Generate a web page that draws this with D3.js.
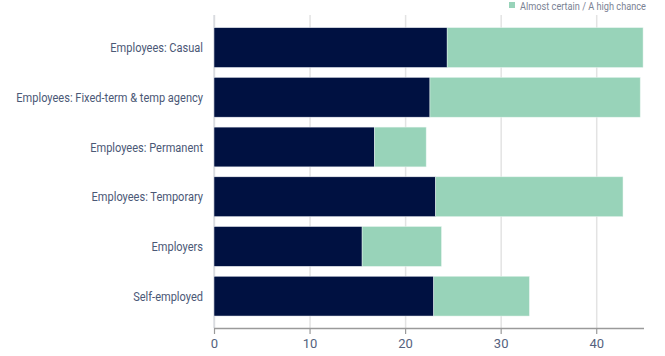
<!DOCTYPE html>
<html lang="en">
  <head>
    <title>Stacked Bar Chart</title>
    <script src="https://d3js.org/d3.v7.min.js"></script>
    <style>
      body {
        margin: 0;
        background: #fff;
      }

      text {
        font-family: "Roboto", sans-serif;
      }

      .grid line {
        stroke: #e3e3e3;
        stroke-width: 1.5;
      }

      .grid .domain {
        display: none;
      }

      .label {
        fill: #4b5876;
        font-size: 13px;
      }
    </style>
  </head>
  <body>
    <script>
      const categories = [
        'Employees: Casual',
        'Employees: Fixed-term & temp agency',
        'Employees: Permanent',
        'Employees: Temporary',
        'Employers',
        'Self-employed'
      ];
      const firstSeries = [24.4, 22.6, 16.8, 23.2, 15.5, 23.0];
      const highChance = [20.5, 22.0, 5.4, 19.6, 8.3, 10.0];
      const xTicks = [0, 10, 20, 30, 40];

      const w = 665;
      const h = 356;
      const left = 214;
      const right = 644;
      const bottom = 328;

      const xScale = d3.scaleLinear()
                       .domain([0, 45])
                       .range([left, right]);

      const yScale = d3.scaleBand()
                       .domain(categories)
                       .range([22.7, 321])
                       .paddingInner(0.2)
                       .paddingOuter(0.1);

      const svg = d3.select('body')
                    .append('svg')
                    .attr('width', w)
                    .attr('height', h);

      // vertical grid
      svg.append('g')
         .attr('class', 'grid')
         .attr('transform', `translate(0, ${bottom})`)
         .call(d3.axisBottom(xScale).tickValues(xTicks).tickSize(-(bottom - 15)).tickFormat(''));

      // left base line
      svg.append('line')
         .attr('x1', left).attr('x2', left)
         .attr('y1', 15).attr('y2', bottom)
         .attr('stroke', '#cfd3db')
         .attr('stroke-width', 1);

      const rows = categories.map((c, i) => ({ cat: c, a: firstSeries[i], b: highChance[i] }));

      svg.selectAll('rect.first')
         .data(rows)
         .enter()
         .append('rect')
          .attr('class', 'first')
          .attr('x', xScale(0))
          .attr('y', d => yScale(d.cat))
          .attr('width', d => xScale(d.a) - xScale(0))
          .attr('height', yScale.bandwidth())
          .attr('fill', '#001141')
          .attr('stroke', '#e8ecf2')
          .attr('stroke-width', 0.5);

      svg.selectAll('rect.second')
         .data(rows)
         .enter()
         .append('rect')
          .attr('class', 'second')
          .attr('x', d => xScale(d.a))
          .attr('y', d => yScale(d.cat))
          .attr('width', d => xScale(d.a + d.b) - xScale(d.a))
          .attr('height', yScale.bandwidth())
          .attr('fill', '#98d3b9')
          .attr('stroke', '#e6f4ee')
          .attr('stroke-width', 0.5);

      // category labels (narrowed to mimic the condensed face)
      svg.selectAll('text.label')
         .data(categories)
         .enter()
         .append('text')
          .attr('class', 'label')
          .attr('transform', d => `translate(203, ${yScale(d) + yScale.bandwidth() / 2}) scale(0.85, 1)`)
          .attr('dy', '0.35em')
          .attr('text-anchor', 'end')
          .text(d => d);

      // x axis
      const xAxis = svg.append('g')
         .attr('transform', `translate(0, ${bottom})`)
         .call(d3.axisBottom(xScale).tickValues(xTicks).tickSize(6).tickPadding(5));

      xAxis.select('.domain')
           .attr('d', `M${left},0.5H${right}`)
           .attr('stroke', '#9a9a9a')
           .attr('stroke-width', 1.5);
      xAxis.selectAll('.tick line').attr('stroke', '#9a9a9a').attr('stroke-width', 1.2);
      xAxis.selectAll('.tick text')
           .attr('fill', '#55627e')
           .style('font-size', '13px');

      // legend
      const legend = svg.append('g').attr('transform', 'translate(509, 2)');
      legend.append('rect')
            .attr('width', 6).attr('height', 6)
            .attr('fill', '#98d3b9');
      legend.append('text')
            .attr('transform', 'translate(11, 4) scale(0.8, 1)')
            .attr('dy', '0.35em')
            .attr('fill', '#7a8294')
            .style('font-size', '11.5px')
            .text('Almost certain / A high chance');
    </script>
  </body>
</html>
